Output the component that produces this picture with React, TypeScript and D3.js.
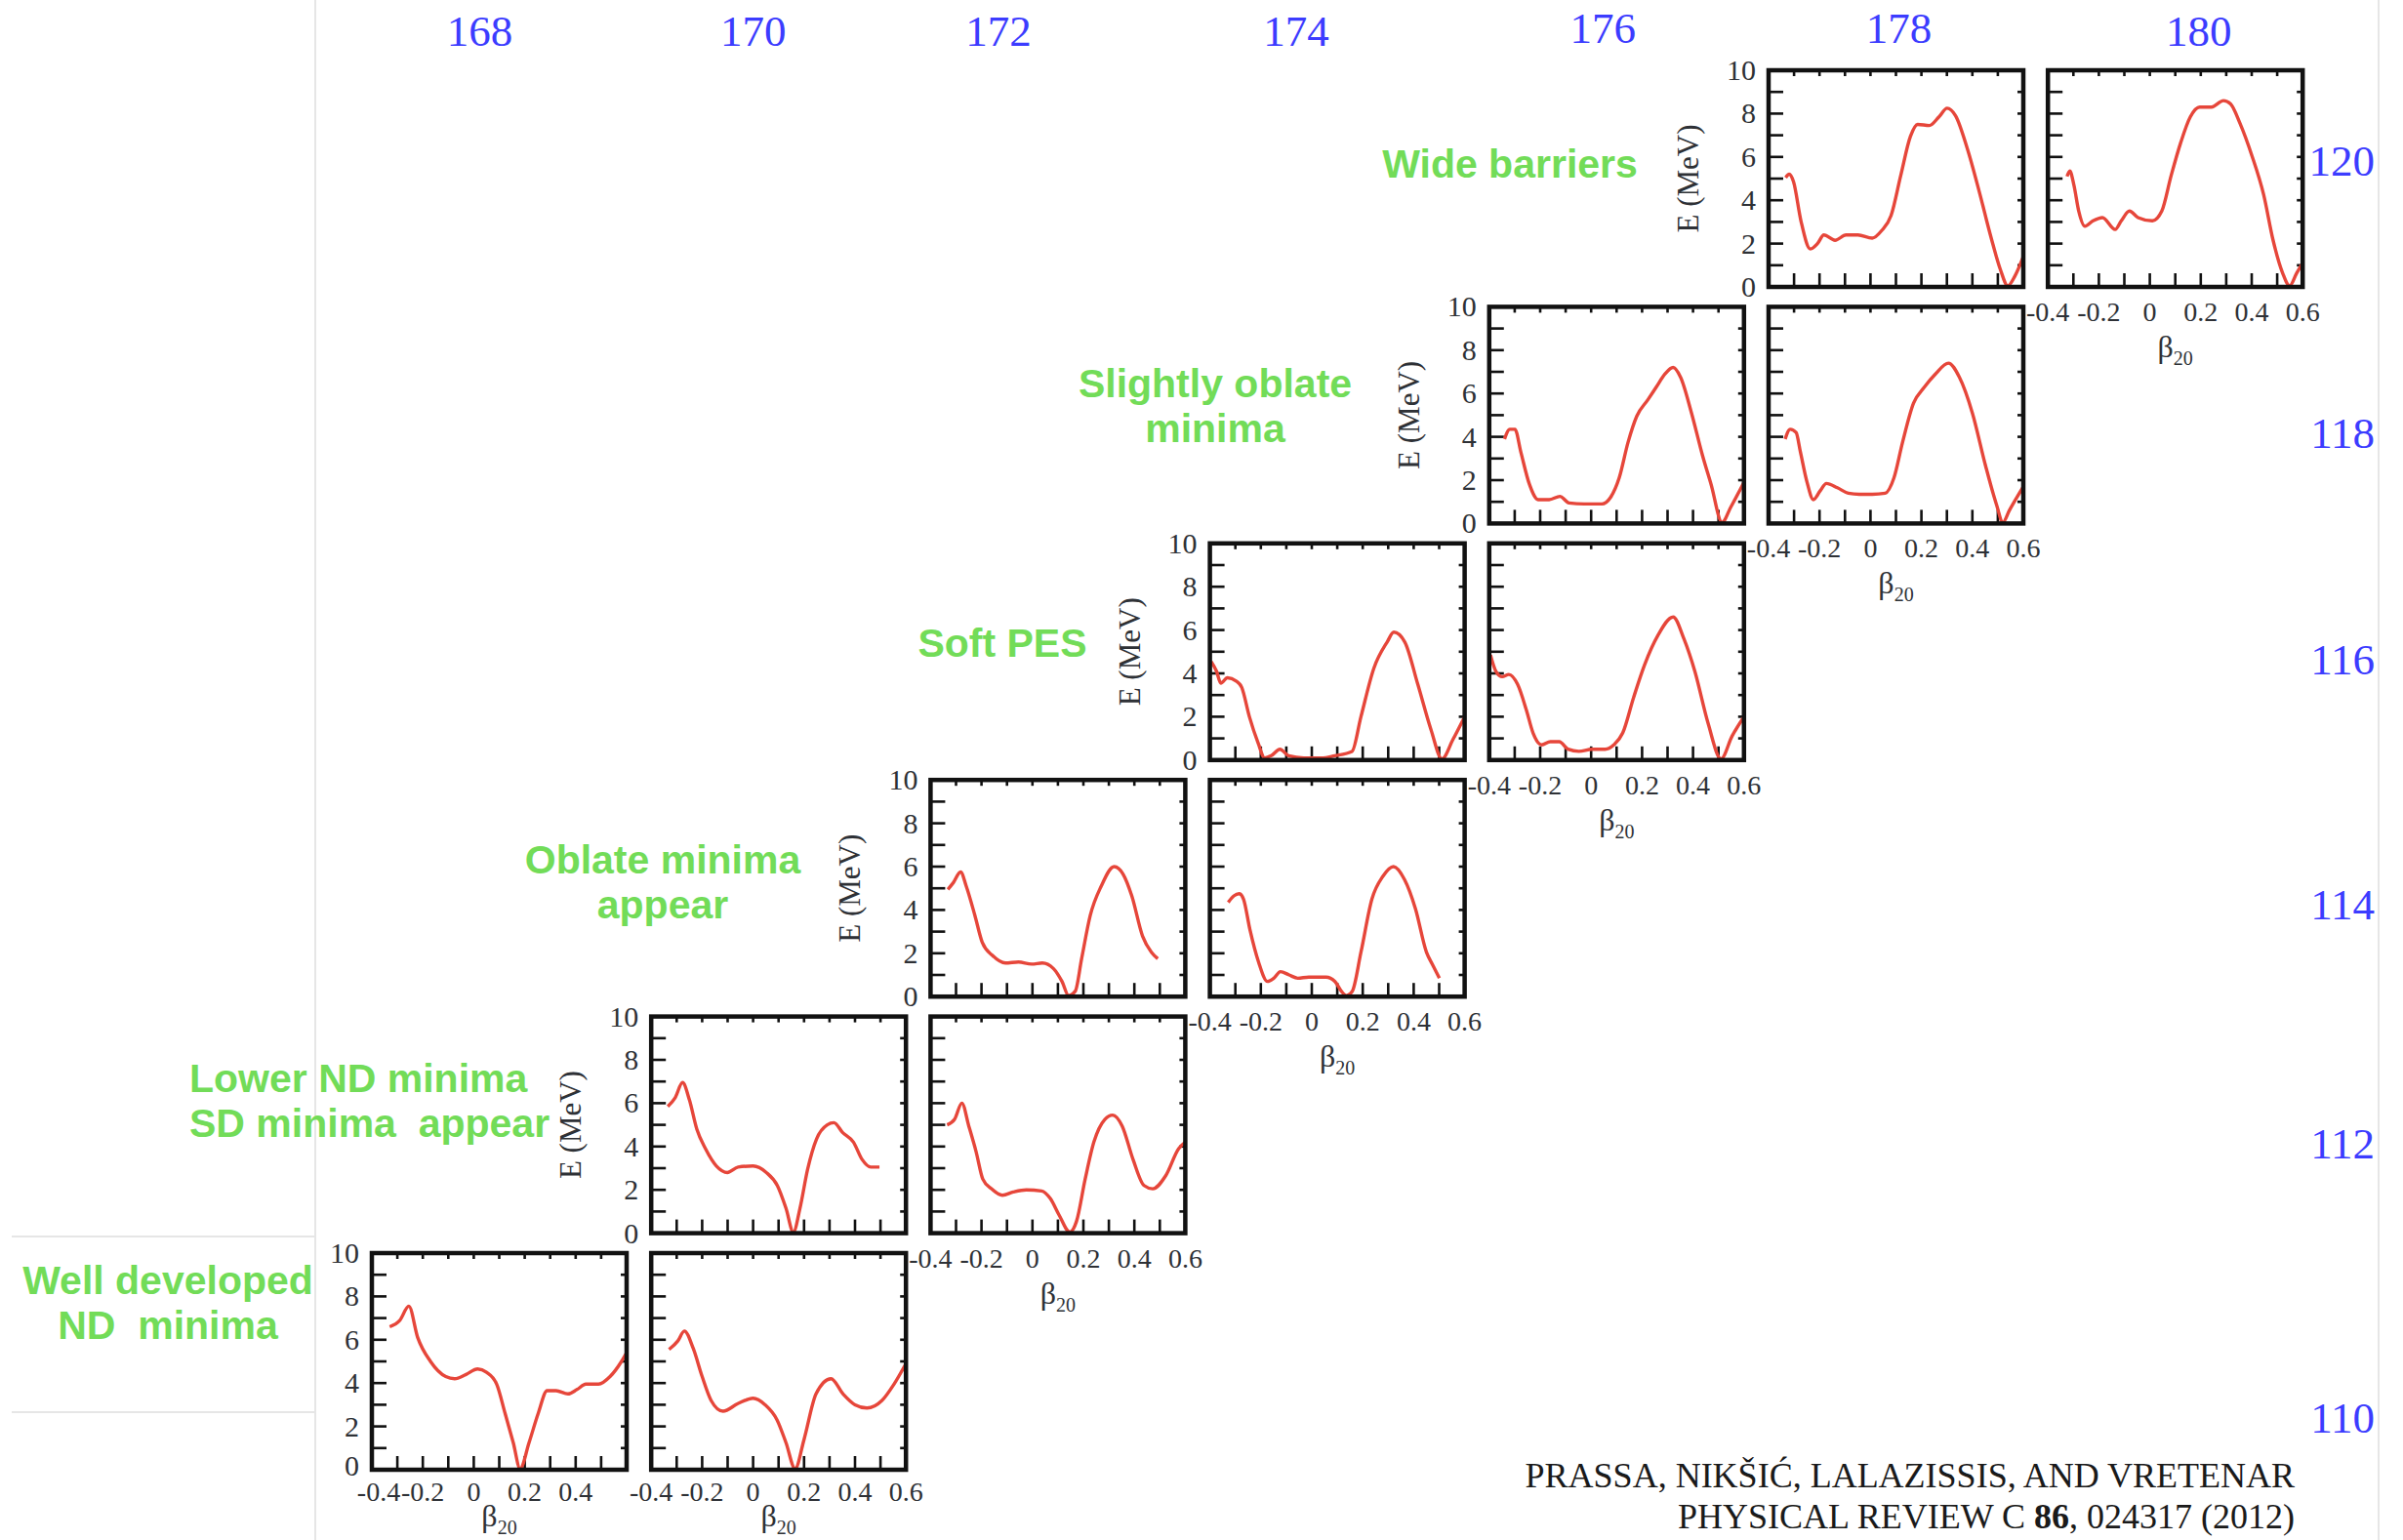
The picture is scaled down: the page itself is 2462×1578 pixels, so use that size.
import React from "react";
import * as d3 from "d3";

// Canvas size
const W = 2462;
const H = 1578;

// Neutron numbers (column headers) and proton numbers (row labels, top to bottom)
const neutronNumbers = [168, 170, 172, 174, 176, 178, 180];
const protonNumbers = [120, 118, 116, 114, 112, 110];

// Axis ticks
const betaTicks = [-0.4, -0.2, 0, 0.2, 0.4, 0.6];
const energyTicks = [0, 2, 4, 6, 8, 10];

// Potential energy curves E(β20) in MeV, given as [β20, E] pairs
const pesZ110N168: [number, number][] = [
  [-0.33, 6.6], [-0.29, 6.9], [-0.255, 7.55], [-0.22, 6.1], [-0.17, 5.0], [-0.11, 4.3],
  [-0.075, 4.2], [-0.03, 4.4], [0.015, 4.65], [0.05, 4.5], [0.09, 3.95], [0.123, 2.6],
  [0.155, 1.25], [0.182, 0.05], [0.217, 1.25], [0.253, 2.6], [0.288, 3.65], [0.323, 3.65],
  [0.37, 3.5], [0.405, 3.7], [0.44, 3.95], [0.49, 3.95], [0.535, 4.3], [0.58, 5.0], [0.6, 5.4],
];
const pesZ110N170: [number, number][] = [
  [-0.33, 5.55], [-0.295, 5.95], [-0.27, 6.4], [-0.235, 5.6], [-0.2, 4.3], [-0.165, 3.2],
  [-0.118, 2.7], [-0.06, 3.05], [0.0, 3.3], [0.047, 3.0], [0.094, 2.3], [0.129, 1.25],
  [0.165, 0.05], [0.2, 1.4], [0.247, 3.5], [0.306, 4.2], [0.353, 3.5], [0.4, 3.0],
  [0.447, 2.85], [0.506, 3.2], [0.553, 3.95], [0.6, 4.9],
];
const pesZ112N170: [number, number][] = [
  [-0.335, 5.85], [-0.306, 6.25], [-0.277, 6.95], [-0.25, 6.15], [-0.221, 4.8], [-0.187, 3.9],
  [-0.144, 3.1], [-0.101, 2.8], [-0.059, 3.05], [0.0, 3.1], [0.052, 2.8], [0.095, 2.2],
  [0.129, 1.15], [0.158, 0.05], [0.184, 1.15], [0.214, 2.95], [0.249, 4.35], [0.291, 5.0],
  [0.317, 5.1], [0.351, 4.65], [0.394, 4.2], [0.428, 3.4], [0.462, 3.05], [0.496, 3.05],
];
const pesZ112N172: [number, number][] = [
  [-0.335, 5.0], [-0.306, 5.25], [-0.277, 6.0], [-0.25, 4.95], [-0.221, 3.75], [-0.195, 2.5],
  [-0.161, 2.05], [-0.118, 1.75], [-0.075, 1.9], [-0.024, 2.0], [0.036, 1.95], [0.07, 1.6],
  [0.104, 0.85], [0.147, 0.05], [0.173, 0.55], [0.207, 2.5], [0.241, 4.2], [0.284, 5.25],
  [0.315, 5.45], [0.352, 4.95], [0.395, 3.4], [0.438, 2.2], [0.472, 2.05], [0.523, 2.65],
  [0.574, 3.9], [0.6, 4.2],
];
const pesZ114N172: [number, number][] = [
  [-0.332, 4.95], [-0.311, 5.25], [-0.282, 5.75], [-0.26, 5.1], [-0.226, 3.75], [-0.197, 2.5],
  [-0.157, 1.9], [-0.106, 1.55], [-0.055, 1.6], [-0.003, 1.5], [0.039, 1.55], [0.082, 1.3],
  [0.116, 0.7], [0.142, 0.05], [0.168, 0.25], [0.193, 1.75], [0.227, 3.75], [0.27, 5.1],
  [0.321, 6.0], [0.356, 5.65], [0.39, 4.65], [0.432, 2.8], [0.467, 2.05], [0.492, 1.75],
];
const pesZ114N174: [number, number][] = [
  [-0.328, 4.35], [-0.306, 4.65], [-0.285, 4.75], [-0.268, 4.5], [-0.243, 3.1], [-0.209, 1.6],
  [-0.174, 0.7], [-0.149, 0.85], [-0.123, 1.15], [-0.089, 1.0], [-0.055, 0.85], [-0.012, 0.9],
  [0.056, 0.9], [0.091, 0.7], [0.116, 0.25], [0.135, 0.05], [0.159, 0.25], [0.193, 2.05],
  [0.236, 4.5], [0.279, 5.55], [0.321, 6.0], [0.364, 5.4], [0.407, 4.05], [0.45, 2.05],
  [0.475, 1.45], [0.501, 0.85],
];
const pesZ116N174: [number, number][] = [
  [-0.395, 4.55], [-0.374, 4.1], [-0.357, 3.55], [-0.331, 3.8], [-0.297, 3.65], [-0.275, 3.35],
  [-0.245, 2.0], [-0.211, 0.8], [-0.185, 0.1], [-0.159, 0.2], [-0.125, 0.5], [-0.091, 0.2],
  [-0.031, 0.1], [0.038, 0.1], [0.09, 0.2], [0.158, 0.4], [0.193, 2.0], [0.244, 4.25],
  [0.296, 5.45], [0.322, 5.9], [0.365, 5.45], [0.416, 3.5], [0.468, 1.4], [0.511, 0.05],
  [0.554, 0.95], [0.6, 2.0],
];
const pesZ116N176: [number, number][] = [
  [-0.395, 4.85], [-0.374, 4.1], [-0.349, 3.85], [-0.323, 3.95], [-0.289, 3.5], [-0.254, 2.3],
  [-0.228, 1.25], [-0.194, 0.7], [-0.16, 0.85], [-0.125, 0.85], [-0.091, 0.5], [-0.048, 0.4],
  [0.003, 0.5], [0.055, 0.5], [0.089, 0.7], [0.124, 1.25], [0.167, 2.9], [0.21, 4.4],
  [0.262, 5.75], [0.322, 6.6], [0.364, 5.6], [0.407, 4.1], [0.459, 1.7], [0.51, 0.05],
  [0.553, 1.1], [0.6, 2.0],
];
const pesZ118N176: [number, number][] = [
  [-0.34, 3.9], [-0.319, 4.35], [-0.299, 4.35], [-0.276, 3.3], [-0.242, 1.8], [-0.208, 1.1],
  [-0.165, 1.1], [-0.122, 1.25], [-0.087, 0.95], [-0.027, 0.9], [0.042, 0.9], [0.076, 1.2],
  [0.11, 2.1], [0.145, 3.75], [0.179, 4.95], [0.222, 5.7], [0.256, 6.3], [0.29, 6.9],
  [0.322, 7.2], [0.351, 6.75], [0.394, 5.1], [0.437, 3.15], [0.471, 1.8], [0.514, 0.05],
  [0.548, 0.75], [0.6, 1.9],
];
const pesZ118N178: [number, number][] = [
  [-0.335, 3.9], [-0.315, 4.35], [-0.292, 4.2], [-0.275, 3.3], [-0.25, 1.95], [-0.224, 1.1],
  [-0.198, 1.5], [-0.173, 1.85], [-0.13, 1.65], [-0.087, 1.4], [-0.044, 1.35], [0.007, 1.35],
  [0.058, 1.4], [0.092, 2.1], [0.126, 3.75], [0.169, 5.55], [0.212, 6.3], [0.255, 6.9],
  [0.306, 7.4], [0.349, 6.75], [0.4, 5.1], [0.451, 2.7], [0.494, 0.9], [0.52, 0.05],
  [0.545, 0.6], [0.6, 1.7],
];
const pesZ120N178: [number, number][] = [
  [-0.333, 5.05], [-0.319, 5.2], [-0.302, 4.85], [-0.273, 3.05], [-0.236, 1.75], [-0.208, 2.0],
  [-0.183, 2.4], [-0.139, 2.15], [-0.096, 2.4], [-0.049, 2.4], [0.007, 2.25], [0.044, 2.6],
  [0.081, 3.3], [0.119, 5.15], [0.157, 6.95], [0.185, 7.5], [0.231, 7.45], [0.269, 7.85],
  [0.301, 8.25], [0.334, 7.9], [0.381, 6.35], [0.427, 4.4], [0.473, 2.3], [0.51, 0.8],
  [0.539, 0.05], [0.567, 0.5], [0.6, 1.4],
];
const pesZ120N180: [number, number][] = [
  [-0.325, 5.1], [-0.314, 5.35], [-0.298, 4.7], [-0.279, 3.5], [-0.255, 2.8], [-0.223, 3.05],
  [-0.186, 3.2], [-0.136, 2.65], [-0.112, 3.05], [-0.08, 3.5], [-0.046, 3.2], [0.01, 3.05],
  [0.047, 3.5], [0.084, 5.15], [0.121, 6.65], [0.159, 7.85], [0.196, 8.3], [0.242, 8.3],
  [0.289, 8.6], [0.317, 8.45], [0.354, 7.55], [0.401, 6.05], [0.447, 4.25], [0.484, 2.15],
  [0.521, 0.65], [0.549, 0.05], [0.577, 0.65], [0.6, 1.1],
];

// Nuclei shown, each with its curve
const nuclei = [
  { z: 110, n: 168, pes: pesZ110N168 },
  { z: 110, n: 170, pes: pesZ110N170 },
  { z: 112, n: 170, pes: pesZ112N170 },
  { z: 112, n: 172, pes: pesZ112N172 },
  { z: 114, n: 172, pes: pesZ114N172 },
  { z: 114, n: 174, pes: pesZ114N174 },
  { z: 116, n: 174, pes: pesZ116N174 },
  { z: 116, n: 176, pes: pesZ116N176 },
  { z: 118, n: 176, pes: pesZ118N176 },
  { z: 118, n: 178, pes: pesZ118N178 },
  { z: 120, n: 178, pes: pesZ120N178 },
  { z: 120, n: 180, pes: pesZ120N180 },
];

// Comments on the evolution of the energy surfaces
const annotations = [
  { lines: ["Wide barriers"], x: 1547, y: 182, anchor: "middle" },
  { lines: ["Slightly oblate", "minima"], x: 1245, y: 407, anchor: "middle" },
  { lines: ["Soft PES"], x: 1027, y: 673, anchor: "middle" },
  { lines: ["Oblate minima", "appear"], x: 679, y: 895, anchor: "middle" },
  { lines: ["Lower ND minima", "SD minima  appear"], x: 194, y: 1119, anchor: "start" },
  { lines: ["Well developed", "ND  minima"], x: 172, y: 1326, anchor: "middle" },
];

const citation = [
  "PRASSA, NIKŠIĆ, LALAZISSIS, AND VRETENAR",
  "PHYSICAL REVIEW C ",
];

// Layout
const COL_X0 = 381;
const COL_STEP = 286.2;
const ROW_Y0 = 72;
const ROW_STEP = 242.4;
const PW = 261;
const PH = 222;
const headerOffsets = [-20, -26, -61, -42, -14, 3, 24];
const headerBaselines = [47, 47, 47, 47, 44, 44, 47];
const rowLabelCenters = [164, 443, 675, 926, 1171, 1452];

const SERIF = "'Liberation Serif', 'Times New Roman', Times, serif";
const SANS = "'Liberation Sans', Arial, Helvetica, sans-serif";
const RED = "#e6463a";
const GREEN = "#72dc58";
const BLUE = "#3c3cff";
const INK = "#2e3136";

const xScale = d3.scaleLinear().domain([-0.4, 0.6]).range([0, PW]);
const yScale = d3.scaleLinear().domain([0, 10]).range([PH, 0]);
const curve = d3
  .line<[number, number]>()
  .x((d) => xScale(d[0]))
  .y((d) => yScale(d[1]))
  .curve(d3.curveMonotoneX);

const fmtBeta = (v: number) => (Math.abs(v) < 1e-9 ? "0" : v.toFixed(1));

function Panel({ z, n, pes }: { z: number; n: number; pes: [number, number][] }) {
  const k = (120 - z) / 2; // row index from the top
  const pair = (n - (z + 58)) / 2; // 0 for the left panel of a row, 1 for the right one
  const col = 5 - k + pair;
  const x0 = COL_X0 + col * COL_STEP;
  const y0 = ROW_Y0 + k * ROW_STEP;
  const isLeft = pair === 0;
  const isBottomRow = z === 110;
  const showX = !isLeft || isBottomRow;
  const xLabelTicks = isLeft && isBottomRow ? betaTicks.slice(0, -1) : betaTicks;
  const tickLabelDy = isBottomRow ? 32 : 35;
  const betaDy = isBottomRow ? 58 : 72;
  const clipId = `clip-${z}-${n}`;
  const minorBeta = d3.range(-0.3, 0.55, 0.1);
  const minorE = d3.range(1, 10, 1);

  return (
    <g transform={`translate(${x0},${y0})`}>
      <defs>
        <clipPath id={clipId}>
          <rect x={0} y={0} width={PW} height={PH} />
        </clipPath>
      </defs>
      <rect x={0} y={0} width={PW} height={PH} fill="#fff" />
      {/* inward ticks */}
      {minorBeta.map((b) => (
        <g key={`bx${b.toFixed(2)}`} stroke="#111" strokeWidth={2.6}>
          <line x1={xScale(b)} x2={xScale(b)} y1={PH} y2={PH - 14} />
          <line x1={xScale(b)} x2={xScale(b)} y1={0} y2={6} />
        </g>
      ))}
      {minorE.map((e) => (
        <g key={`ey${e}`} stroke="#111" strokeWidth={2.6}>
          <line x1={0} x2={15} y1={yScale(e)} y2={yScale(e)} />
          <line x1={PW} x2={PW - 6} y1={yScale(e)} y2={yScale(e)} />
        </g>
      ))}
      <path d={curve(pes) ?? ""} fill="none" stroke={RED} strokeWidth={3.4} strokeLinejoin="round" clipPath={`url(#${clipId})`} />
      <rect x={0} y={0} width={PW} height={PH} fill="none" stroke="#111" strokeWidth={4.5} />

      {isLeft &&
        energyTicks.map((e) => (
          <text
            key={`yl${e}`}
            x={-13}
            y={yScale(e) + (isBottomRow && e === 0 ? 6 : 10)}
            textAnchor="end"
            fontFamily={SERIF}
            fontSize={30}
            fill={INK}
          >
            {e}
          </text>
        ))}
      {isLeft && !isBottomRow && (
        <text
          transform={`translate(-72,${PH / 2}) rotate(-90)`}
          textAnchor="middle"
          fontFamily={SERIF}
          fontSize={31}
          fill={INK}
        >
          E (MeV)
        </text>
      )}
      {showX &&
        xLabelTicks.map((b) => (
          <text
            key={`xl${b}`}
            x={xScale(b) + (isLeft && b === -0.4 ? 7 : 0)}
            y={PH + tickLabelDy}
            textAnchor="middle"
            fontFamily={SERIF}
            fontSize={28}
            fill={INK}
          >
            {fmtBeta(b)}
          </text>
        ))}
      {showX && (
        <text x={PW / 2} y={PH + betaDy} textAnchor="middle" fontFamily={SERIF} fontSize={32} fill={INK}>
          β
          <tspan fontSize={20} dy={8}>
            20
          </tspan>
        </text>
      )}
    </g>
  );
}

export default function App() {
  return (
    <svg
      width={W}
      height={H}
      viewBox={`0 0 ${W} ${H}`}
      style={{ position: "absolute", left: 0, top: 0, background: "#fff" }}
    >
      <rect x={0} y={0} width={W} height={H} fill="#fff" />

      {/* faint frame lines */}
      <g stroke="#e6e6e6" strokeWidth={2}>
        <line x1={323} x2={323} y1={0} y2={H} />
        <line x1={2437} x2={2437} y1={0} y2={H} />
        <line x1={12} x2={323} y1={1267} y2={1267} />
        <line x1={12} x2={323} y1={1447} y2={1447} />
      </g>

      {/* neutron numbers */}
      {neutronNumbers.map((n, i) => (
        <text
          key={`N${n}`}
          x={COL_X0 + i * COL_STEP + PW / 2 + headerOffsets[i]}
          y={headerBaselines[i]}
          textAnchor="middle"
          fontFamily={SERIF}
          fontSize={45}
          fill={BLUE}
        >
          {n}
        </text>
      ))}

      {/* proton numbers */}
      {protonNumbers.map((z, i) => (
        <text
          key={`Z${z}`}
          x={2433}
          y={rowLabelCenters[i] + 16}
          textAnchor="end"
          fontFamily={SERIF}
          fontSize={45}
          fill={BLUE}
        >
          {z}
        </text>
      ))}

      {nuclei.map((d) => (
        <Panel key={`${d.z}-${d.n}`} z={d.z} n={d.n} pes={d.pes} />
      ))}

      {/* annotations */}
      {annotations.map((a, i) => (
        <text
          key={`ann${i}`}
          x={a.x}
          y={a.y}
          textAnchor={a.anchor as any}
          fontFamily={SANS}
          fontWeight="bold"
          fontSize={41}
          fill={GREEN}
        >
          {a.lines.map((l, j) => (
            <tspan key={j} x={a.x} dy={j === 0 ? 0 : 46} style={{ whiteSpace: "pre" }}>
              {l}
            </tspan>
          ))}
        </text>
      ))}

      {/* reference */}
      <text x={2351} y={1524} textAnchor="end" fontFamily={SERIF} fontSize={36} fill="#1a1a1a">
        {citation[0]}
      </text>
      <text x={2351} y={1566} textAnchor="end" fontFamily={SERIF} fontSize={36} fill="#1a1a1a">
        {citation[1]}
        <tspan fontWeight="bold">86</tspan>, 024317 (2012)
      </text>
    </svg>
  );
}
